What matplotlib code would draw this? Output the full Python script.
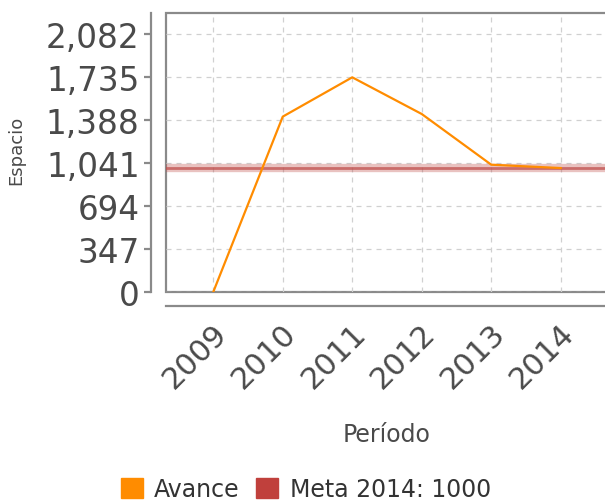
import matplotlib
matplotlib.use('Agg')
import matplotlib.pyplot as plt
import matplotlib.transforms as mtransforms
from matplotlib.patches import Patch
from matplotlib.ticker import FuncFormatter

periodos = [2009, 2010, 2011, 2012, 2013, 2014]
avance = [0, 1415, 1732, 1436, 1027, 1000]
meta = 1000
etiquetas_y = [0, 347, 694, 1041, 1388, 1735, 2082]

W, H = 605, 502
fig = plt.figure(figsize=(W / 100, H / 100), dpi=100)
ax = fig.add_axes([166 / W, (H - 293) / H, (608 - 166) / W, (293 - 14) / H])

ax.plot(periodos, avance, color='#ff8c00', linewidth=1.6, zorder=3)
# linea de meta: banda suave con centro mas oscuro
ax.axhline(meta, color='#c0504d', alpha=0.35, linewidth=6, zorder=2)
ax.axhline(meta, color='#c0504d', alpha=0.75, linewidth=2, zorder=2)

ax.set_xlim(2008.32, 2014.68)
ax.set_ylim(0, 2251)
ax.set_xticks(periodos)
ax.set_yticks(etiquetas_y)
ax.yaxis.set_major_formatter(FuncFormatter(lambda v, p: f'{int(v):,}'))

ax.grid(True, color='#d0d0d0', linestyle=(0, (4, 4)), linewidth=0.9)
ax.set_axisbelow(True)

# marco del area de trazado
ax.patch.set_edgecolor('#8a8a8a')
ax.patch.set_linewidth(1.6)
for s in ['top', 'right']:
    ax.spines[s].set_visible(False)
ax.spines['left'].set_position(('outward', 11))
ax.spines['bottom'].set_position(('outward', 10))
for s in ['left', 'bottom']:
    ax.spines[s].set_color('#8a8a8a')
    ax.spines[s].set_linewidth(1.6)

ax.tick_params(axis='y', length=5, width=1.6, color='#8a8a8a', labelsize=23.5, labelcolor='#4a4a4a', pad=3)
ax.tick_params(axis='x', length=0, labelbottom=False)

# etiquetas del eje x rotadas 45 grados
trans = mtransforms.blended_transform_factory(ax.transData, ax.transAxes)
offset = mtransforms.ScaledTranslation(0.09, -0.36, fig.dpi_scale_trans)
for p in periodos:
    ax.text(p, 0, str(p), transform=trans + offset, rotation=45, rotation_mode='anchor',
            ha='right', va='center', fontsize=22, color='#4a4a4a', clip_on=False)

fig.text(16 / W, 1 - 150 / H, 'Espacio', rotation=90, ha='center', va='center', fontsize=13, color='#4a4a4a')
fig.text(387 / W, 1 - 435 / H, 'Período', ha='center', va='center', fontsize=17, color='#4a4a4a')

handles = [Patch(color='#ff8c00'), Patch(color='#c0403c')]
fig.legend(handles, ['Avance', 'Meta 2014: 1000'], loc='center left',
           bbox_to_anchor=(100 / W, 1 - 490 / H), ncol=2, frameon=False,
           fontsize=17, handlelength=0.9, handleheight=0.9, handletextpad=0.5,
           columnspacing=0.7, labelcolor='#333333')

fig.savefig('out.png', dpi=100)
